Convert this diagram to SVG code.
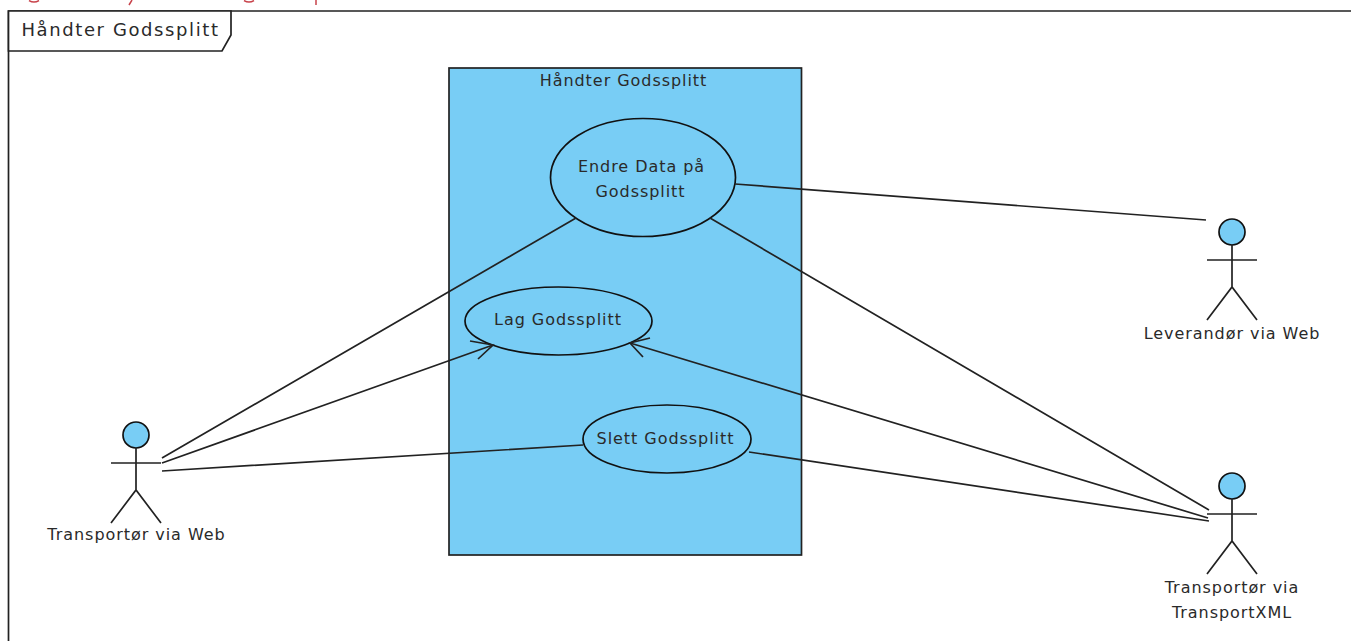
<svg xmlns="http://www.w3.org/2000/svg" width="1351" height="641" viewBox="0 0 1351 641">
<style>
text{font-family:"DejaVu Sans","Liberation Sans",sans-serif;font-size:16px;letter-spacing:.95px;fill:#2a2a2a;text-anchor:middle}
.l{fill:none;stroke:#222;stroke-width:1.7}
.u{fill:#78cdf5;stroke:#111;stroke-width:1.7}
</style>
<defs><g id="actor"><circle class="u" cx="0" cy="-25" r="13"/><path class="l" d="M0-12V30M-25 3H25M-25 63 0 30 25 63"/></g></defs>
<rect width="1351" height="641" fill="#fff"/>
<path d="M29 .5Q34 3.500 39 .5M129 5 132 0M244 .5Q249 3.500 254 .5M316 5V0" fill="none" stroke="#c8434b" stroke-width="1.500"/>
<g id="frame"><path class="l" d="M8.500 641V11H1351"/><path d="M8.500 11H231V35L222 51H8.500Z" fill="#fff" stroke="#222" stroke-width="1.700"/><text x="120.500" y="36" style="font-size:18px;letter-spacing:1.600px">Håndter Godssplitt</text></g>
<g id="system"><rect class="u" x="449" y="68" width="352.500" height="487" style="stroke:#222"/><text x="623.500" y="86">Håndter Godssplitt</text></g>
<g id="uc1"><ellipse class="u" cx="643" cy="177.500" rx="92.500" ry="59"/><text x="641.500" y="172">Endre Data på</text><text x="640.500" y="197">Godssplitt</text></g>
<g id="uc2"><ellipse class="u" cx="558.500" cy="321" rx="93.500" ry="34"/><text x="558" y="325">Lag Godssplitt</text></g>
<g id="uc3"><ellipse class="u" cx="667" cy="439" rx="84" ry="34"/><text x="665.500" y="444">Slett Godssplitt</text></g>
<g id="actor1"><use href="#actor" x="136" y="460"/><text x="136.500" y="540">Transportør via Web</text></g>
<g id="actor2"><use href="#actor" x="1232" y="257"/><text x="1232" y="339">Leverandør via Web</text></g>
<g id="actor3"><use href="#actor" x="1232" y="511"/><text x="1232" y="593">Transportør via</text><text x="1232" y="618">TransportXML</text></g>
<g id="connectors">
<path class="l" d="M162 458 576 218M162 463 493 345M162 471 583 445M735 184 1206 220M710 218 1209 510M630 343 1208 518M749 452 1209 521"/>
<path class="l" d="M470 341 493 345 478 359M650 338 630 343 643 357"/>
</g>
</svg>
